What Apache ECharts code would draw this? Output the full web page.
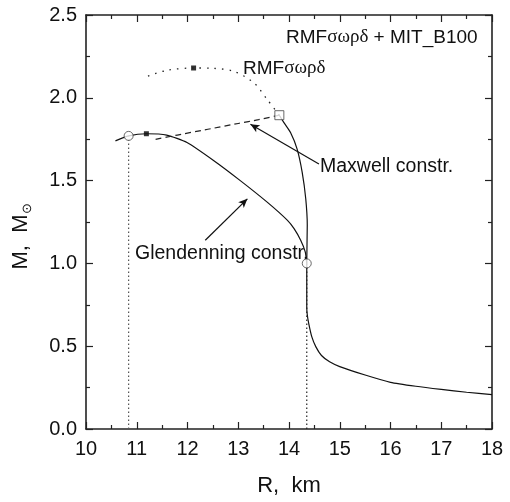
<!DOCTYPE html>
<html>
<head>
<meta charset="utf-8">
<script src="https://cdn.jsdelivr.net/npm/echarts@6/dist/echarts.min.js"></script>
<style>
    html, body { margin: 0; padding: 0; background: #fff; }
    #chart { width: 510px; height: 502px; }
</style>
</head>
<body>
<div id="chart"></div>
<script>
// hadronic branch (RMF) with Maxwell construction, solid part
const hadronR = [18, 17.5, 17, 16.5, 16, 15.5, 15, 14.8, 14.64, 14.53, 14.45, 14.39, 14.36, 14.35, 14.35, 14.35, 14.36, 14.33, 14.26, 14.16, 14.03, 13.9, 13.81]
const hadronM = [0.207, 0.222, 0.239, 0.258, 0.282, 0.326, 0.377, 0.406, 0.444, 0.496, 0.556, 0.635, 0.69, 0.735, 0.85, 1.0, 1.23, 1.39, 1.55, 1.69, 1.79, 1.85, 1.895]
// Glendenning construction branch
const glendR = [14.35, 14.32, 14.23, 14.1, 13.97, 13.57, 13.04, 12.52, 11.99, 11.59, 11.19, 10.84, 10.58]
const glendM = [1.0, 1.07, 1.14, 1.21, 1.26, 1.37, 1.50, 1.62, 1.73, 1.775, 1.783, 1.77, 1.74]
// pure RMF continuation (dotted)
const rmfR = [13.81, 13.57, 13.31, 12.91, 12.5, 12.12, 11.6, 11.21]
const rmfM = [1.895, 1.99, 2.09, 2.16, 2.178, 2.18, 2.166, 2.13]
// Maxwell connection (dashed)
const maxwellR = [13.81, 13.4, 13.0, 12.4, 11.8, 11.35]
const maxwellM = [1.895, 1.868, 1.845, 1.81, 1.775, 1.748]
// markers
const openCircles = [[10.84, 1.77], [14.35, 1.0]]
const openSquares = [[13.81, 1.895]]
const maxPoints = [[12.12, 2.18], [11.19, 1.783]]
// vertical dotted guides
const guideA = [[10.84, 0], [10.84, 1.77]]
const guideB = [[14.35, 0], [14.35, 1.0]]
// arrows
const maxwellArrow = [[14.59, 1.60], [13.24, 1.84]]
const glendArrow = [[12.35, 1.14], [13.18, 1.39]]

const xTicks = { min: 10, max: 18, interval: 1 }
const yTicks = { min: 0, max: 2.5, interval: 0.5 }

const zip = (a, b) => a.map((v, i) => [v, b[i]])

const FONT = "Liberation Sans"
const SERIF = "Liberation Serif"
const axisColor = "#222"

function axisBase(extra) {
    return Object.assign({
        type: "value",
        axisLine: { show: true, onZero: false, lineStyle: { color: axisColor, width: 1.6 } },
        axisTick: { show: true, inside: true, length: 7, lineStyle: { color: axisColor, width: 1.2 } },
        minorTick: { show: true, splitNumber: 2, length: 4, lineStyle: { color: axisColor, width: 1.2 } },
        splitLine: { show: false },
    }, extra)
}

const chart = echarts.init(document.getElementById("chart"))

const option = {
    backgroundColor: "#fff",
    animation: false,
    grid: { left: 86, right: 18, top: 15, bottom: 70 },
    xAxis: [
        axisBase({
            min: xTicks.min, max: xTicks.max, interval: xTicks.interval,
            position: "bottom",
            axisLabel: { color: "#111", fontFamily: FONT, fontSize: 20, margin: 10 },
            name: "R,  km",
            nameLocation: "middle",
            nameGap: 46,
            nameTextStyle: { color: "#111", fontFamily: FONT, fontSize: 22 },
        }),
        axisBase({
            min: xTicks.min, max: xTicks.max, interval: xTicks.interval,
            position: "top",
            axisLabel: { show: false },
        }),
    ],
    yAxis: [
        axisBase({
            min: yTicks.min, max: yTicks.max, interval: yTicks.interval,
            position: "left",
            axisLabel: {
                color: "#111", fontFamily: FONT, fontSize: 20, margin: 9,
                formatter: v => v.toFixed(1),
            },
            name: "{m|M,  M}{s|⊙}",
            nameLocation: "middle",
            nameGap: 52,
            nameTextStyle: {
                padding: [0, 28, 0, 0],
                rich: {
                    m: { color: "#111", fontFamily: FONT, fontSize: 22 },
                    s: { color: "#111", fontFamily: SERIF, fontSize: 13, padding: [14, 0, 0, 1] },
                },
            },
        }),
        axisBase({
            min: yTicks.min, max: yTicks.max, interval: yTicks.interval,
            position: "right",
            axisLabel: { show: false },
        }),
    ],
    series: [
        {
            name: "hadron",
            type: "line",
            data: zip(hadronR, hadronM),
            showSymbol: false,
            smooth: 0.2,
            lineStyle: { color: "#111", width: 1.2 },
        },
        {
            name: "glendenning",
            type: "line",
            data: zip(glendR, glendM),
            showSymbol: false,
            smooth: 0.2,
            lineStyle: { color: "#111", width: 1.2 },
        },
        {
            name: "rmf",
            type: "line",
            data: zip(rmfR, rmfM),
            showSymbol: false,
            smooth: 0.3,
            lineStyle: { color: "#222", width: 1.3, type: [1.5, 6] },
        },
        {
            name: "maxwell",
            type: "line",
            data: zip(maxwellR, maxwellM),
            showSymbol: false,
            smooth: 0.2,
            lineStyle: { color: "#222", width: 1.2, type: [6, 4] },
        },
        {
            name: "guideA",
            type: "line",
            data: guideA,
            showSymbol: false,
            lineStyle: { color: "#555", width: 1.2, type: [1.5, 2.5] },
        },
        {
            name: "guideB",
            type: "line",
            data: guideB,
            showSymbol: false,
            lineStyle: { color: "#222", width: 1.2, type: [1.5, 2.5] },
            // arrows pointing at the two constructions
            markLine: {
                silent: true,
                symbol: ["none", "arrow"],
                symbolSize: [6, 9],
                label: { show: false },
                lineStyle: { color: "#111", width: 1.2, type: "solid" },
                data: [
                    [{ coord: maxwellArrow[0] }, { coord: maxwellArrow[1] }],
                    [{ coord: glendArrow[0] }, { coord: glendArrow[1] }],
                ],
            },
        },
        {
            name: "max",
            type: "scatter",
            data: maxPoints,
            symbol: "rect",
            symbolSize: 5,
            itemStyle: { color: "#000" },
        },
        {
            name: "circles",
            type: "scatter",
            data: openCircles,
            symbol: "circle",
            symbolSize: 9,
            itemStyle: { color: "#fff", borderColor: "#444", borderWidth: 1 },
            z: 5,
        },
        {
            name: "squares",
            type: "scatter",
            data: openSquares,
            symbol: "rect",
            symbolSize: 9,
            itemStyle: { color: "#fff", borderColor: "#444", borderWidth: 1 },
            z: 5,
        },
    ],
    graphic: [
        {
            type: "text",
            left: 286, top: 28,
            style: {
                text: "{a|RMF}{g|σωρδ}{a| + MIT_B100}",
                rich: {
                    a: { fontFamily: FONT, fontSize: 19, fill: "#111" },
                    g: { fontFamily: SERIF, fontSize: 19, fill: "#111" },
                },
            },
        },
        {
            type: "text",
            left: 243, top: 59,
            style: {
                text: "{a|RMF}{g|σωρδ}",
                rich: {
                    a: { fontFamily: FONT, fontSize: 19, fill: "#111" },
                    g: { fontFamily: SERIF, fontSize: 19, fill: "#111" },
                },
            },
        },
        {
            type: "text",
            left: 320, top: 157,
            style: { text: "Maxwell constr.", fontFamily: FONT, fontSize: 19.5, fill: "#111" },
        },
        {
            type: "text",
            left: 135, top: 244,
            style: { text: "Glendenning constr.", fontFamily: FONT, fontSize: 19.5, fill: "#111" },
        },
    ],
}

chart.setOption(option)
</script>
</body>
</html>
